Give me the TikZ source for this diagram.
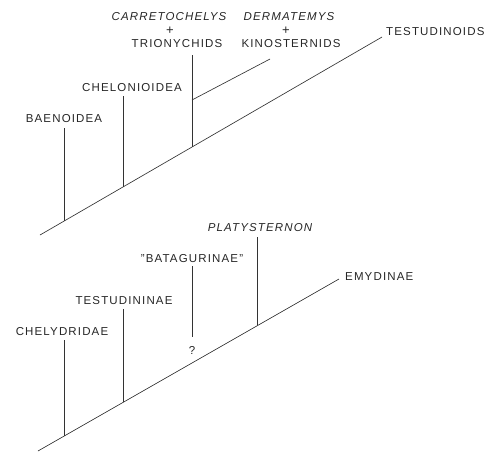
\documentclass[tikz,border=0pt]{standalone}
\usepackage{fontspec}
\setmainfont{Liberation Sans}[LetterSpace=10]
\begin{document}
\begin{tikzpicture}[x=1pt,y=-1pt,
  lbl/.style={inner sep=0pt,font=\fontsize{11.5}{12}\selectfont,text=black!85},
  ilbl/.style={lbl,font=\fontsize{11.5}{12}\selectfont\itshape},
  plus/.style={lbl,font=\fontsize{13}{13}\selectfont\addfontfeature{LetterSpace=0}},
  ln/.style={draw=black!80,line width=0.65pt}]
\useasboundingbox (0,0) rectangle (498,451);
% ---------- upper tree ----------
\coordinate (a0) at (40,235);
\coordinate (a1) at (382,37);
\coordinate (bB) at (64,221);   \coordinate (tB) at (64,128);
\coordinate (bC) at (123,187);  \coordinate (tC) at (123,96);
\coordinate (bT) at (192,147);  \coordinate (tT) at (192,55);
\coordinate (kB) at (192,100);  \coordinate (kE) at (270,59);
\node[lbl] (baen) at (64,119) {BAENOIDEA};
\node[lbl] (chel) at (132,88) {CHELONIOIDEA};
\node[ilbl] (carr) at (169,17) {CARRETOCHELYS};
\node[plus] (p1) at (170,31) {+};
\node[lbl] (trio) at (177,44) {TRIONYCHIDS};
\node[ilbl] (derm) at (289,17) {DERMATEMYS};
\node[plus] (p2) at (286,31) {+};
\node[lbl] (kino) at (291,44) {KINOSTERNIDS};
\node[lbl,anchor=west] (test) at (386,32) {TESTUDINOIDS};
\draw[ln] (a0) -- (a1);
\draw[ln] (tB) -- (bB);
\draw[ln] (tC) -- (bC);
\draw[ln] (tT) -- (bT);
\draw[ln] (kB) -- (kE);
% ---------- lower tree ----------
\coordinate (c0) at (38,451);
\coordinate (c1) at (339,279);
\coordinate (bH) at (64,436);   \coordinate (tH) at (64,340);
\coordinate (bN) at (123,402);  \coordinate (tN) at (123,309);
\coordinate (tG) at (192,266);  \coordinate (eG) at (192,337);
\coordinate (bP) at (257,325);  \coordinate (tP) at (257,237);
\node[lbl] (cely) at (62,332) {CHELYDRIDAE};
\node[lbl] (tsn) at (124,301) {TESTUDININAE};
\node[lbl] (bata) at (192,259) {"BATAGURINAE"};
\node[lbl] (q) at (192,350) {?};
\node[ilbl] (plat) at (260,228) {PLATYSTERNON};
\node[lbl,anchor=west] (emy) at (345,277) {EMYDINAE};
\draw[ln] (c0) -- (c1);
\draw[ln] (tH) -- (bH);
\draw[ln] (tN) -- (bN);
\draw[ln] (tG) -- (eG);
\draw[ln] (tP) -- (bP);
\end{tikzpicture}
\end{document}
